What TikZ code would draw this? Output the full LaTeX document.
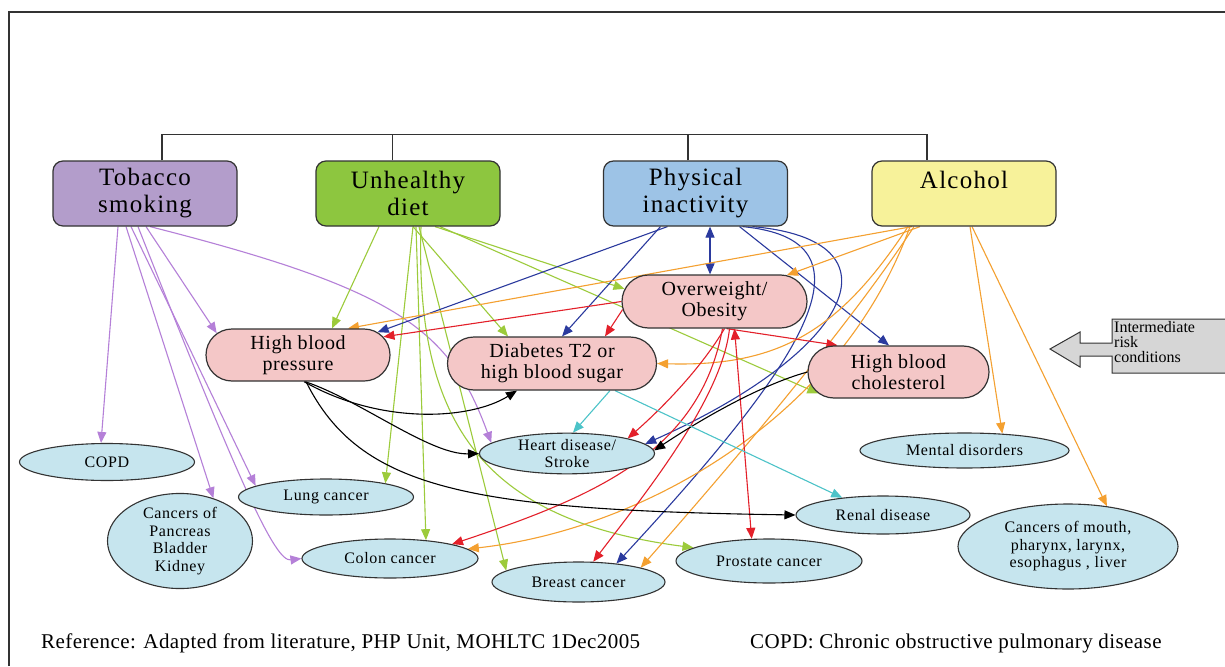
\documentclass[tikz,border=0pt]{standalone}
\usepackage{fontspec}
\setmainfont{Liberation Serif}
\usetikzlibrary{shapes.geometric,shapes.misc,arrows.meta,backgrounds,calc}
\definecolor{tobf}{HTML}{B39DCB}
\definecolor{dietf}{HTML}{8DC63F}
\definecolor{physf}{HTML}{9DC3E6}
\definecolor{alcf}{HTML}{F7F29A}
\definecolor{pinkf}{HTML}{F4C7C7}
\definecolor{ellf}{HTML}{C6E5EE}
\definecolor{grayf}{HTML}{D6D6D6}
\definecolor{tobc}{HTML}{B580D8}
\definecolor{dietc}{HTML}{9CCB3B}
\definecolor{physc}{HTML}{2B3A9E}
\definecolor{alcc}{HTML}{F4A030}
\definecolor{obesc}{HTML}{E3202A}
\definecolor{cyanc}{HTML}{4CC3C8}
\definecolor{linec}{HTML}{333333}
\begin{document}
\begin{tikzpicture}[x=1pt,y=-1pt,
  topbox/.style={draw=linec, line width=1.2pt, rounded corners=10pt, minimum width=184pt, minimum height=65pt, inner sep=0pt, align=center, font=\fontsize{25}{27}\selectfont\addfontfeatures{LetterSpace=5}},
  pinkbox/.style={rounded rectangle, draw=linec, fill=pinkf, line width=1.2pt, inner sep=0pt, align=center, font=\fontsize{20}{21}\selectfont\addfontfeatures{LetterSpace=3}},
  ell/.style={ellipse, draw=linec, fill=ellf, line width=1.1pt, inner sep=0pt, align=center, font=\fontsize{16}{17.5}\selectfont\addfontfeatures{LetterSpace=4}},
  tip/.tip={Triangle[length=11pt,width=9pt]},
  e/.style={line width=1.1pt, -tip},
  tobe/.style={e, draw=tobc},
  diete/.style={e, draw=dietc},
  physe/.style={e, draw=physc},
  alce/.style={e, draw=alcc},
  obese/.style={e, draw=obesc},
  blk/.style={e, draw=black},
  cyane/.style={e, draw=cyanc},
  frame/.style={draw=linec, line width=1.3pt}
]
\useasboundingbox (0,0) rectangle (1225,666);
% frame
\draw[frame] (9,666) -- (9,12) -- (1226,12);
% risk factors
\node[topbox, fill=tobf] (tob) at (145,193.5) {Tobacco\\smoking};
\node[topbox, fill=dietf] (diet) at (408,193.5) {Unhealthy\\diet};
\node[topbox, fill=physf] (phys) at (695.5,193.5) {Physical\\inactivity};
\node[topbox, fill=alcf] (alc) at (964,193.5) {Alcohol\\\mbox{}};
\draw[frame] ([xshift=17pt]tob.north) -- ++(0,-26) -- ([xshift=-37pt,yshift=26pt]alc.north) -- ([xshift=-37pt]alc.north);
\draw[frame] ([xshift=-15.5pt]diet.north) -- ++(0,-26);
\draw[frame] ([xshift=-7.5pt]phys.north) -- ++(0,-26);
% intermediate conditions
\node[pinkbox, minimum width=184pt, minimum height=52pt] (hbp) at (298,355) {High blood\\pressure};
\node[pinkbox, minimum width=209pt, minimum height=53pt] (diab) at (552,363.5) {Diabetes T2 or\\high blood sugar};
\node[pinkbox, minimum width=185pt, minimum height=53pt] (obes) at (714.5,301.5) {Overweight/\\Obesity};
\node[pinkbox, minimum width=181pt, minimum height=52pt] (chol) at (898.5,372) {High blood\\cholesterol};
% diseases
\node[ell, minimum width=175pt, minimum height=37pt] (copd) at (107,462) {COPD};
\node[ell, minimum width=175pt, minimum height=36pt] (lung) at (326,497) {Lung cancer};
\node[ell, minimum width=145pt, minimum height=92pt] (panc) at (180,541) {Cancers of\\Pancreas\\Bladder\\Kidney};
\node[ell, minimum width=176pt, minimum height=39pt] (colon) at (390,558.5) {Colon cancer};
\node[ell, minimum width=175pt, minimum height=37pt] (heart) at (567,453.5) {Heart disease/\\Stroke};
\node[ell, minimum width=173pt, minimum height=40pt] (breast) at (578.5,582) {Breast cancer};
\node[ell, minimum width=186pt, minimum height=44pt] (prost) at (769,561) {Prostate cancer};
\node[ell, minimum width=174pt, minimum height=38pt] (renal) at (883,515) {Renal disease};
\node[ell, minimum width=209pt, minimum height=35pt] (mental) at (964.5,450.5) {Mental disorders};
\node[ell, minimum width=220pt, minimum height=85pt] (mouth) at (1068,546.5) {Cancers of mouth,\\pharynx, larynx,\\esophagus , liver};
% intermediate risk conditions arrow
\draw[fill=grayf, draw=linec, line width=1pt] (1112,319) -- (1226,319) -- (1226,373) -- (1112,373) -- (1112,356) -- (1080,356) -- (1080,367) -- (1050,349) -- (1080,332) -- (1080,343) -- (1112,343) -- cycle;
\node[anchor=north west, align=left, inner sep=0pt, font=\fontsize{16}{15}\selectfont] (irc) at (1114,321) {Intermediate\\risk\\conditions};
% footer
\node[anchor=west, inner sep=0pt, font=\fontsize{21}{23}\selectfont\addfontfeatures{LetterSpace=2}] (refn) at (41,643) {Reference: Adapted from literature, PHP Unit, MOHLTC 1Dec2005};
\node[anchor=west, inner sep=0pt, font=\fontsize{21}{23}\selectfont\addfontfeatures{LetterSpace=2}] (copdn) at (750,643) {COPD: Chronic obstructive pulmonary disease};
\begin{pgfonlayer}{background}
\fill[white] (0,0) rectangle (1225,666);
% tobacco
\draw[tobe] ([xshift=-27pt]tob.south) -- ([xshift=-6pt]copd.north);
\draw[tobe] ([xshift=-19pt]tob.south) -- (panc.52);
\draw[tobe] ([xshift=-14pt]tob.south) -- (lung.171);
\draw[tobe] ([xshift=-7pt]tob.south) .. controls (240,485) and (275,562) .. (colon.west);
\draw[tobe] ([xshift=1pt]tob.south) -- (hbp.165);
\draw[tobe] ([xshift=5pt]tob.south) .. controls (400,290) and (450,330) .. (heart.172);
% diet
\draw[diete] ([xshift=-29pt]diet.south) -- ([xshift=34pt]hbp.north);
\draw[diete] ([xshift=5pt]diet.south) -- ([xshift=-44pt]diab.north);
\draw[diete] ([xshift=5pt]diet.south) -- (lung.13);
\draw[diete] ([xshift=8pt]diet.south) -- (colon.27);
\draw[diete] ([xshift=11pt]diet.south) -- (breast.171);
\draw[diete] ([xshift=13pt]diet.south) .. controls (415,420) and (480,520) .. (prost.170);
\draw[diete] ([xshift=27pt]diet.south) -- (obes.172);
\draw[diete] ([xshift=32pt]diet.south) -- (chol.195);
% physical inactivity
\draw[physe] ([xshift=-28pt]phys.south) -- (hbp.16);
\draw[physe] ([xshift=-35pt]phys.south) -- ([xshift=10pt]diab.north);
\draw[physe, tip-tip] ([xshift=14.5pt]phys.south) -- ([xshift=-4.5pt]obes.north);
\draw[physe] ([xshift=44pt]phys.south) -- ([xshift=-9.5pt]chol.north);
\draw[physe] ([xshift=57pt]phys.south) .. controls (905,240) and (855,350) .. (heart.7);
\draw[physe] ([xshift=47pt]phys.south) .. controls (880,240) and (810,355) .. (breast.26);
% alcohol
\draw[alce] ([xshift=-52pt]alc.south) -- ([xshift=50pt]hbp.north);
\draw[alce] ([xshift=-44pt]alc.south) -- (obes.20);
\draw[alce] ([xshift=-56pt]alc.south) .. controls (840,330) and (780,367) .. (diab.east);
\draw[alce] ([xshift=-54pt]alc.south) .. controls (840,420) and (640,530) .. (colon.7);
\draw[alce] ([xshift=-50pt]alc.south) .. controls (840,340) and (700,500) .. (breast.13);
\draw[alce] ([xshift=6pt]alc.south) -- (mental.24);
\draw[alce] ([xshift=8pt]alc.south) -- (mouth.46);
% overweight
\draw[obese] (obes.west) -- (hbp.12);
\draw[obese] (obes.185) -- ([xshift=53pt]diab.north);
\draw[obese] ([xshift=12pt]obes.south) -- ([xshift=-61pt]chol.north);
\draw[obese] ([xshift=10pt]obes.south) .. controls (700,370) and (660,410) .. (heart.14);
\draw[obese] ([xshift=8pt]obes.south) .. controls (700,450) and (600,495) .. (colon.13);
\draw[obese] ([xshift=15pt]obes.south) .. controls (722,400) and (640,500) .. (breast.54);
\draw[obese, tip-tip] ([xshift=20pt]obes.south) -- (prost.128);
% high blood pressure / cholesterol
\draw[blk] ([xshift=6pt]hbp.south) .. controls (380,425) and (470,420) .. ([xshift=-35pt]diab.south);
\draw[blk] ([xshift=7pt]hbp.south) .. controls (360,400) and (430,455) .. (heart.west);
\draw[blk] ([xshift=8pt]hbp.south) .. controls (360,490) and (470,510) .. (renal.west);
\draw[blk] (chol.west) .. controls (760,385) and (700,420) .. (heart.2);
% diabetes
\draw[cyane] ([xshift=58pt]diab.south) -- ([xshift=6pt]heart.north);
\draw[cyane] ([xshift=63pt]diab.south) -- (renal.157);
\end{pgfonlayer}
\end{tikzpicture}
\end{document}
